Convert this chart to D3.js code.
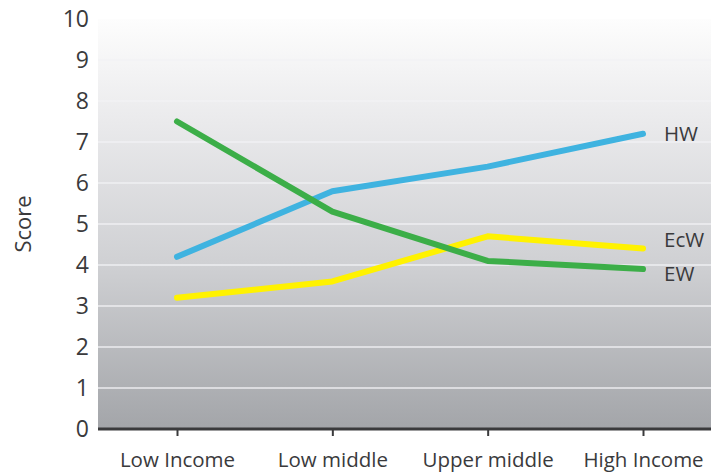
<!DOCTYPE html>
<html>
<head>
<meta charset="utf-8">
<script src="https://cdn.jsdelivr.net/npm/d3@7"></script>
<style>
  html, body { margin: 0; padding: 0; background: #fff; }
  svg { display: block; }
  text { font-family: "Open Sans", "Noto Sans", sans-serif; fill: #3a3a3c; }
</style>
</head>
<body>
<svg id="chart" width="713" height="474"></svg>
<script>
// Income groups along the x axis
const categories = ["Low Income", "Low middle", "Upper middle", "High Income"];
// Scores per series
const hwValues  = [4.2, 5.8, 6.4, 7.2];
const ewValues  = [7.5, 5.3, 4.1, 3.9];
const ecwValues = [3.2, 3.6, 4.7, 4.4];
const seriesNames = ["HW", "EcW", "EW"];
const yTicks = [0, 1, 2, 3, 4, 5, 6, 7, 8, 9, 10];

const series = [
  { name: "EcW", values: ecwValues, color: "#fff200" },
  { name: "HW",  values: hwValues,  color: "#3fb3e0" },
  { name: "EW",  values: ewValues,  color: "#3cae48" }
];

const svg = d3.select("#chart");
const plotLeft = 98, plotRight = 711, plotTop = 19, plotBottom = 429;

const x = d3.scalePoint().domain(categories).range([177, 643]);
const y = d3.scaleLinear().domain([0, 10]).range([plotBottom, plotTop]);

// Plot background: light at the top fading to grey at the bottom
const defs = svg.append("defs");
const grad = defs.append("linearGradient")
  .attr("id", "bg").attr("x1", 0).attr("y1", 0).attr("x2", 0).attr("y2", 1);
grad.append("stop").attr("offset", "0%").attr("stop-color", "#fdfdfd");
grad.append("stop").attr("offset", "25%").attr("stop-color", "#eaeaec");
grad.append("stop").attr("offset", "60%").attr("stop-color", "#cfd0d3");
grad.append("stop").attr("offset", "100%").attr("stop-color", "#a3a5a9");

svg.append("rect")
  .attr("x", plotLeft).attr("y", plotTop)
  .attr("width", plotRight - plotLeft).attr("height", plotBottom - plotTop)
  .attr("fill", "url(#bg)");

// Horizontal grid lines
svg.append("g")
  .selectAll("line")
  .data(yTicks.filter(d => d > 0 && d < 10))
  .join("line")
  .attr("x1", plotLeft).attr("x2", plotRight)
  .attr("y1", d => y(d)).attr("y2", d => y(d))
  .attr("stroke", "#f2f2f4").attr("stroke-width", 1.5)
  .attr("stroke-opacity", 0.9);

// Y axis labels
const yAxis = d3.axisLeft(y).tickValues(yTicks).tickSize(0).tickPadding(9);
svg.append("g")
  .attr("transform", `translate(${plotLeft},0)`)
  .call(yAxis)
  .call(g => g.select(".domain").remove())
  .call(g => g.selectAll("text")
    .attr("font-size", 23)
    .attr("fill", "#3a3a3c")
    .style("font-family", "'Open Sans', sans-serif"));

// X axis
const xAxis = d3.axisBottom(x).tickSize(7).tickPadding(16);
svg.append("g")
  .attr("transform", `translate(0,${plotBottom})`)
  .call(xAxis)
  .call(g => g.select(".domain").remove())
  .call(g => g.selectAll(".tick line").attr("stroke", "#3a3a3c").attr("stroke-width", 2))
  .call(g => g.selectAll("text")
    .attr("font-size", 20.5)
    .attr("fill", "#3a3a3c")
    .style("font-family", "'Open Sans', sans-serif"));

svg.append("line")
  .attr("x1", plotLeft).attr("x2", plotRight)
  .attr("y1", plotBottom).attr("y2", plotBottom)
  .attr("stroke", "#3a3a3c").attr("stroke-width", 3);

// Y axis title
svg.append("text")
  .attr("transform", `translate(23,${(plotTop + plotBottom) / 2}) rotate(-90)`)
  .attr("text-anchor", "middle")
  .attr("dy", "0.35em")
  .attr("font-size", 22)
  .text("Score");

// Series lines
const line = d3.line()
  .x((d, i) => x(categories[i]))
  .y(d => y(d));

svg.append("g")
  .selectAll("path")
  .data(series)
  .join("path")
  .attr("d", d => line(d.values))
  .attr("fill", "none")
  .attr("stroke", d => d.color)
  .attr("stroke-width", 6)
  .attr("stroke-linecap", "round")
  .attr("stroke-linejoin", "round");

// End labels
const labelOffset = { HW: 0, EcW: -9, EW: 5 };
svg.append("g")
  .selectAll("text")
  .data(series)
  .join("text")
  .attr("x", x(categories[categories.length - 1]) + 21)
  .attr("y", d => y(d.values[d.values.length - 1]) + labelOffset[d.name])
  .attr("dy", "0.35em")
  .attr("font-size", 20.5)
  .text(d => d.name);
</script>
</body>
</html>
